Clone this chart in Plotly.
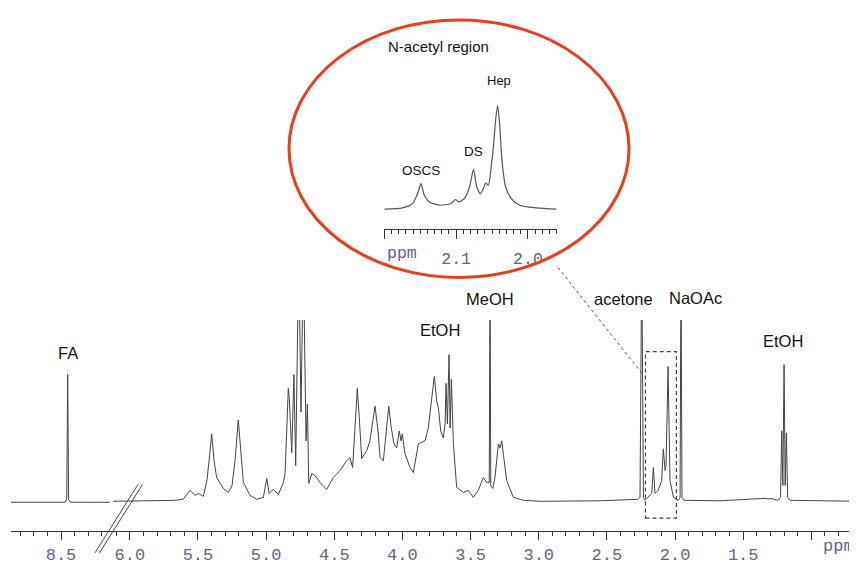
import plotly.graph_objects as go

# ---------------- data ----------------
# left segment of the broken axis (formic acid region)
fa_ppm = [8.867, 8.60, 8.470, 8.458, 8.451, 8.444, 8.432, 8.30, 8.143]
fa_int = [-1, -1, -1, 2, 128, 2, -1, -1, -1]

# main spectrum, right of the axis break (tall peaks exceed the frame and are clipped)
main_ppm = [6.122, 5.85, 5.668, 5.609, 5.558, 5.521, 5.497, 5.461, 5.434, 5.415,
            5.399, 5.382, 5.363, 5.314, 5.277, 5.250, 5.228, 5.204, 5.184, 5.167,
            5.118, 5.069, 5.020, 4.995, 4.978, 4.947, 4.910, 4.873, 4.861, 4.837,
            4.830, 4.812, 4.796, 4.783, 4.761, 4.744, 4.727, 4.707, 4.697, 4.687,
            4.665, 4.641, 4.604, 4.556, 4.507, 4.458, 4.409, 4.385, 4.365, 4.348,
            4.331, 4.315, 4.299, 4.262, 4.238, 4.225, 4.201, 4.179, 4.164, 4.140,
            4.120, 4.100, 4.084, 4.062, 4.042, 4.023, 4.010, 4.001, 3.981, 3.944,
            3.920, 3.883, 3.834, 3.810, 3.785, 3.766, 3.748, 3.736, 3.719, 3.700,
            3.687, 3.680, 3.670, 3.658, 3.650, 3.641, 3.626, 3.602, 3.553, 3.516,
            3.480, 3.443, 3.407, 3.382, 3.363, 3.357, 3.352, 3.337, 3.321, 3.296,
            3.284, 3.271, 3.258, 3.235, 3.186, 3.113, 2.990, 2.55, 2.271, 2.257,
            2.244, 2.232, 2.220, 2.171, 2.159, 2.147, 2.123, 2.098, 2.086, 2.073,
            2.066, 2.051, 2.037, 2.012, 1.976, 1.963, 1.956, 1.949, 1.935, 1.669,
            1.332, 1.317, 1.303, 1.244, 1.226, 1.217, 1.209, 1.200, 1.192, 1.183,
            1.174, 1.156, 0.665]
main_int = [0, 0.5, 1, 2, 11, 6, 8, 5, 21, 46,
            68, 41, 24, 13, 9, 16, 41, 82, 46, 19,
            6, 2, 4, 23, 8, 12, 7, 19, 28, 114,
            104, 49, 128, 36, 250, 90, 250, 61, 98, 18,
            28, 26, 19, 12, 24, 31, 41, 44, 34, 81,
            114, 81, 43, 51, 61, 74, 96, 71, 44, 41,
            71, 96, 76, 58, 54, 71, 61, 68, 48, 34,
            29, 58, 61, 74, 104, 126, 101, 94, 71, 64,
            78, 119, 78, 148, 74, 123, 58, 14, 9, 11,
            4, 11, 24, 19, 19, 250, 16, 13, 24, 58,
            54, 61, 46, 21, 4, 1, 0, 0.5, 2, 4,
            250, 4, 1, 8, 34, 8, 11, 21, 53, 31,
            36, 136, 21, 4, 1, 4, 250, 4, 1, 0.5,
            3, 2, 3, 1, 4, 71, 16, 138, 16, 69,
            4, 1, 0]

# inset: N-acetyl region
ins_ppm = [2.200, 2.1746, 2.1606, 2.1536, 2.1489, 2.1443, 2.1373, 2.1233, 2.1070, 2.1010,
           2.0964, 2.0884, 2.0814, 2.0758, 2.0712, 2.0665, 2.0619, 2.0591, 2.0553, 2.0507,
           2.0479, 2.0451, 2.0423, 2.0395, 2.0358, 2.0311, 2.0232, 2.0116, 1.9883, 1.9603]
ins_int = [0, 1.3, 5.7, 15.7, 25.7, 14, 7.3, 4, 5.7, 9.7,
           7.3, 10.7, 22.3, 39.7, 22.3, 15.7, 20.7, 26.3, 24, 45.7,
           64, 89, 104, 85.7, 45.7, 22.3, 10.7, 4, 1.3, 0]

main_major = [6.0, 5.5, 5.0, 4.5, 4.0, 3.5, 3.0, 2.5, 2.0, 1.5, 1.0]
main_major_text = ["6.0", "5.5", "5.0", "4.5", "4.0", "3.5", "3.0", "2.5", "2.0", "1.5", ""]
left_major = [8.5]
left_major_text = ["8.5"]
ins_major = [2.2, 2.1, 2.0]
ins_major_text = ["", "2.1", "2.0"]

peak_labels = ["FA", "EtOH", "MeOH", "acetone", "NaOAc", "EtOH"]
inset_labels = ["N-acetyl region", "Hep", "DS", "OSCS"]

# ---------------- layout helpers ----------------
# the page body keeps an 8px margin; the figure is offset by it
OFF = 8
W, H = 857 - OFF, 565 - OFF
AX_PX = 536          # page y of the main axis line
LEFT_PX = 11         # page x of the plot's left edge
ML = LEFT_PX - OFF
PW, PH = W - ML, AX_PX - OFF
MB = H - PH


def xp(px):
    return (px - LEFT_PX) / PW


def yp(py):
    return (AX_PX - py) / PH


LINE = "#444444"
TICKC = "#333333"
LBLC = "#5c6684"
MONO = "Liberation Mono, Courier New, monospace"
SANS = "Liberation Sans, Arial, sans-serif"

fig = go.Figure()
fig.add_trace(go.Scatter(x=fa_ppm, y=fa_int, mode="lines", xaxis="x", yaxis="y",
                         line=dict(color=LINE, width=1), hoverinfo="skip", showlegend=False))
fig.add_trace(go.Scatter(x=main_ppm, y=main_int, mode="lines", xaxis="x2", yaxis="y",
                         line=dict(color=LINE, width=1), hoverinfo="skip", showlegend=False))
fig.add_trace(go.Scatter(x=ins_ppm, y=ins_int, mode="lines", xaxis="x3", yaxis="y3",
                         line=dict(color="#555555", width=1.2, shape="spline", smoothing=0.7),
                         hoverinfo="skip", showlegend=False))

brk = xp(111)
axis_common = dict(showgrid=False, zeroline=False, showline=True, linecolor=TICKC, linewidth=1,
                   ticks="outside", ticklen=8, tickwidth=1, tickcolor=TICKC,
                   tickfont=dict(family=MONO, size=17, color=LBLC), ticklabelstandoff=0,
                   tickmode="array")

fig.update_layout(
    width=W, height=H,
    margin=dict(l=ML, r=0, t=0, b=MB),
    paper_bgcolor="white", plot_bgcolor="white",
    xaxis=dict(domain=[0, brk], range=[8.867, 8.133], anchor="y",
               tickvals=left_major, ticktext=left_major_text,
               minor=dict(tickmode="linear", tick0=0, dtick=0.1, ticks="outside",
                          ticklen=4, tickcolor=TICKC, showgrid=False),
               **axis_common),
    xaxis2=dict(domain=[brk, 1], range=[6.138, 0.665], anchor="y",
                tickvals=main_major, ticktext=main_major_text,
                minor=dict(tickmode="linear", tick0=0, dtick=0.1, ticks="outside",
                           ticklen=4, tickcolor=TICKC, showgrid=False),
                **axis_common),
    yaxis=dict(domain=[0, yp(323)], range=[-30, 183], visible=False, fixedrange=True),
    xaxis3=dict(domain=[xp(384.3), xp(556.7)], range=[2.2, 1.96], anchor="y3",
                showgrid=False, zeroline=False, showline=True, linecolor=TICKC, linewidth=1,
                ticks="outside", ticklen=9, tickwidth=1, tickcolor=TICKC,
                tickmode="array", tickvals=ins_major, ticktext=ins_major_text,
                tickfont=dict(family=MONO, size=16.5, color=LBLC), ticklabelstandoff=5,
                minor=dict(tickmode="linear", tick0=0, dtick=0.01, ticks="outside",
                           ticklen=4, tickcolor=TICKC, showgrid=False)),
    yaxis3=dict(domain=[yp(231.5), yp(101.5)], range=[-20.3, 109], visible=False),
)

# ---------------- shapes ----------------
shapes = [
    dict(type="circle", xref="paper", yref="paper", x0=xp(289), x1=xp(629), y0=yp(280), y1=yp(20),
         line=dict(color="#ec3b1e", width=3)),
    dict(type="line", xref="paper", yref="paper", x0=xp(558), y0=yp(270), x1=xp(642), y1=yp(377),
         line=dict(color="#555555", width=1, dash="dot")),
    dict(type="rect", xref="x2", yref="paper", x0=2.217, x1=1.990, y0=yp(523), y1=yp(355),
         line=dict(color="#444444", width=1.2, dash="4px,3px")),
    dict(type="line", xref="paper", yref="paper", x0=xp(95), y0=yp(558), x1=xp(138), y1=yp(489),
         line=dict(color="#444444", width=1)),
    dict(type="line", xref="paper", yref="paper", x0=xp(99.5), y0=yp(558), x1=xp(142.5), y1=yp(489),
         line=dict(color="#444444", width=1)),
]
fig.update_layout(shapes=shapes)

# ---------------- text ----------------
ann = []
peak_pos = [(68.3, 356), (440, 333), (490, 302), (623, 302), (695, 300.5), (782.7, 344)]
for t, (px, py) in zip(peak_labels, peak_pos):
    ann.append(dict(text=t, x=xp(px), y=yp(py), xref="paper", yref="paper", showarrow=False,
                    font=dict(family=SANS, size=16.5, color="#111111"),
                    xanchor="center", yanchor="middle"))
ins_pos = [(438.3, 47, 15), (499, 81, 13), (474, 153, 13.5), (421, 172, 13.5)]
for t, (px, py, fs) in zip(inset_labels, ins_pos):
    ann.append(dict(text=t, x=xp(px), y=yp(py), xref="paper", yref="paper", showarrow=False,
                    font=dict(family=SANS, size=fs, color="#111111"),
                    xanchor="center", yanchor="middle"))
ann.append(dict(text="ppm", x=xp(838), y=yp(552), xref="paper", yref="paper", showarrow=False,
                font=dict(family=MONO, size=17, color=LBLC), xanchor="center", yanchor="middle"))
ann.append(dict(text="ppm", x=xp(401.7), y=yp(256), xref="paper", yref="paper", showarrow=False,
                font=dict(family=MONO, size=16.5, color=LBLC), xanchor="center", yanchor="middle"))
fig.update_layout(annotations=ann)

fig.write_html("out.html")
